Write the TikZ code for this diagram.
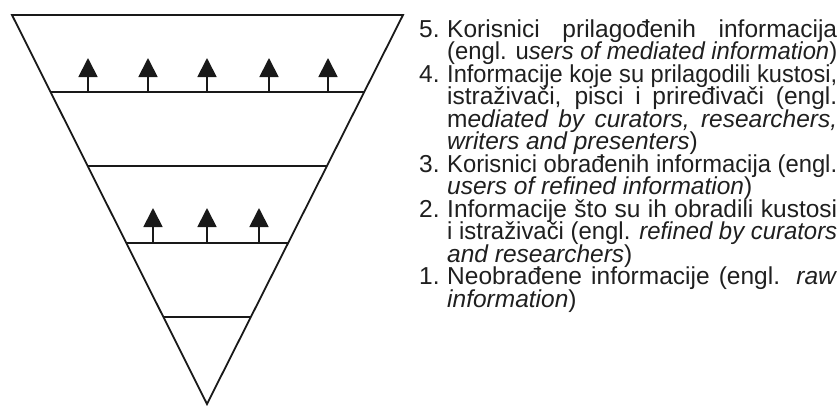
\documentclass[tikz,border=0pt]{standalone}
\usepackage{fontspec}
\usepackage{graphicx}
\setmainfont{Liberation Sans}
\usetikzlibrary{arrows.meta,calc}
\tikzset{
  edge/.style={line width=1.8pt, line join=miter, draw=black!90},
  uparrow/.style={line width=1.8pt, draw=black!90, fill=black!90, -{Triangle[length=19pt,width=19pt]}},
  txt/.style={anchor=base west, inner sep=0pt, font=\fontsize{24.5}{24.5}\selectfont, text=black!88},
}
\newlength{\linew}
\setlength{\linew}{390pt}
% justified line: stretch spaces if short, compress horizontally if too wide
\newcommand{\jl}[1]{\sbox0{#1}\ifdim\wd0>\linew\resizebox{\linew}{\height}{#1}\else\makebox[\linew][s]{#1}\fi}
% last line: natural width unless too wide
\newcommand{\lastl}[1]{\sbox0{#1}\ifdim\wd0>\linew\resizebox{\linew}{\height}{#1}\else\usebox0\fi}
\begin{document}
\begin{tikzpicture}[x=1pt,y=-1pt]
\useasboundingbox (0,0) rectangle (840,405);
% triangle
\coordinate (TL) at (12,15);
\coordinate (TR) at (403,15);
\coordinate (AP) at (207,404);
\draw[edge] (TL) -- (TR) -- (AP) -- cycle;
% levels
\foreach \t/\n in {0.198/a,0.388/b,0.586/c,0.776/d}{
  \coordinate (L\n) at ($(TL)!\t!(AP)$);
  \coordinate (R\n) at ($(TR)!\t!(AP)$);
  \draw[edge] (L\n) -- (R\n);
}
% upper arrows
\foreach \x [count=\i] in {88,148,207,269,328}{
  \coordinate (ua\i) at (\x,92);
  \coordinate (ut\i) at (\x,58);
  \draw[uparrow] (ua\i) -- (ut\i);
}
% lower arrows
\foreach \x [count=\i] in {153,207,259}{
  \coordinate (la\i) at (\x,243);
  \coordinate (lt\i) at (\x,208);
  \draw[uparrow] (la\i) -- (lt\i);
}
% numbers
\node[txt] (n5) at (419,37) {5.};
\node[txt] (n4) at (419,82) {4.};
\node[txt] (n3) at (419,172) {3.};
\node[txt] (n2) at (419,217) {2.};
\node[txt] (n1) at (419,284.5) {1.};
% text lines
\node[txt] (t01) at (447,37) {\jl{Korisnici prilagođenih informacija}};
\node[txt] (t02) at (447,59.5) {\lastl{(engl. u\textit{sers of mediated information})}};
\node[txt] (t03) at (447,82) {\jl{Informacije koje su prilagodili kustosi,}};
\node[txt] (t04) at (447,104.5) {\jl{istraživači, pisci i priređivači (engl.}};
\node[txt] (t05) at (447,127) {\jl{m\textit{ediated by curators, researchers,}}};
\node[txt] (t06) at (447,149.5) {\lastl{\textit{writers and presenters})}};
\node[txt] (t07) at (447,172) {\jl{Korisnici obrađenih informacija (engl.}};
\node[txt] (t08) at (447,194.5) {\lastl{\textit{users of refined information})}};
\node[txt] (t09) at (447,217) {\jl{Informacije što su ih obradili kustosi}};
\node[txt] (t10) at (447,239.5) {\jl{i istraživači (engl. \textit{refined by curators}}};
\node[txt] (t11) at (447,262) {\lastl{\textit{and researchers})}};
\node[txt] (t12) at (447,284.5) {\jl{Neobrađene informacije (engl. \textit{raw}}};
\node[txt] (t13) at (447,307) {\lastl{\textit{information})}};
\end{tikzpicture}
\end{document}
